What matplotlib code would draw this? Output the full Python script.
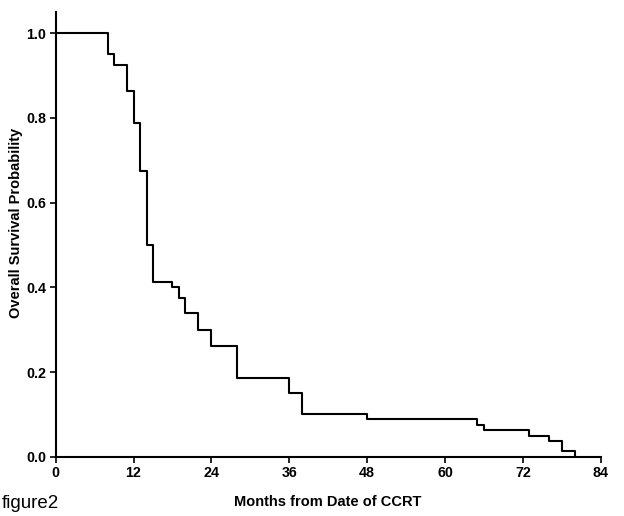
import matplotlib
matplotlib.use("Agg")
import matplotlib.pyplot as plt

# Kaplan-Meier step data
times = [0, 8, 9, 11, 12, 13, 14, 15, 18, 19, 20, 22, 24, 28, 36, 38, 48, 65, 66, 73, 76, 78, 80]
surv = [1.0, 0.951, 0.925, 0.864, 0.788, 0.675, 0.500, 0.4125, 0.400, 0.375, 0.3385,
        0.299, 0.262, 0.187, 0.151, 0.100, 0.088, 0.075, 0.063, 0.050, 0.038, 0.0125, 0.0]
xticks = [0, 12, 24, 36, 48, 60, 72, 84]
yticks = [0.0, 0.2, 0.4, 0.6, 0.8, 1.0]

plt.rcParams['font.family'] = ['Liberation Sans', 'DejaVu Sans']

fig = plt.figure(figsize=(6.24, 5.16), dpi=100)
ax = fig.add_axes([55.7 / 624, 1 - 456.7 / 516, 545 / 624, (456.7 - 12.1) / 516])

ax.step(times, surv, where='post', color='black', linewidth=1.5)

ax.set_xlim(0, 84)
ax.set_ylim(0, 1.05)
ax.set_xticks(xticks)
ax.set_xticklabels([str(t) for t in xticks], fontweight='bold', fontsize=10.3)
ax.set_yticks(yticks)
ax.set_yticklabels([f"{t:.1f}" for t in yticks], fontweight='bold', fontsize=10.3)
ax.tick_params(axis='both', direction='out', length=4.5, width=1.2, pad=2.5, colors='black')

for s in ['top', 'right']:
    ax.spines[s].set_visible(False)
for s in ['left', 'bottom']:
    ax.spines[s].set_linewidth(1.5)

fig.text(328 / 624, 1 - 501.5 / 516, "Months from Date of CCRT", ha='center', va='center',
         fontweight='bold', fontsize=10.5)
fig.text(16 / 624, 1 - 223 / 516, "Overall Survival Probability", ha='center', va='center',
         rotation=90, fontweight='bold', fontsize=10.5)
fig.text(2 / 624, 1 - 503 / 516, "figure2", ha='left', va='center', fontsize=13.5)

fig.savefig("out.png", dpi=100)
